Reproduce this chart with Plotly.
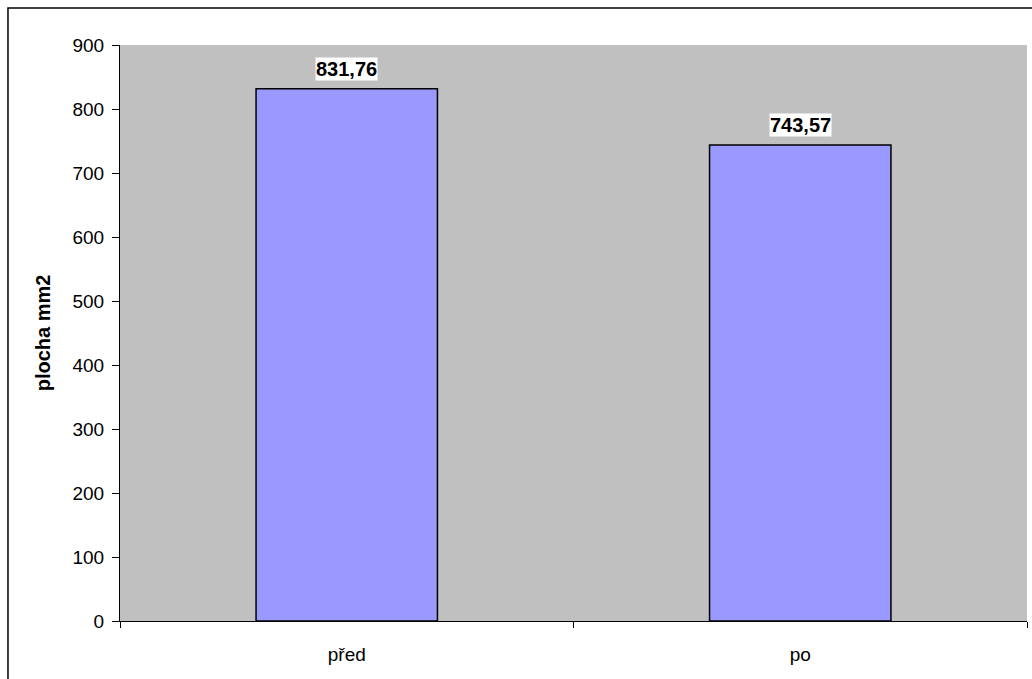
import plotly.graph_objects as go

categories = ["před", "po"]
values = [831.76, 743.57]
value_labels = ["831,76", "743,57"]

fig = go.Figure()
fig.add_trace(go.Bar(
    x=categories, y=values, width=0.4,
    marker=dict(color="#9999FF", line=dict(color="black", width=1.5)),
    hoverinfo="skip",
))

for cat, val, lab in zip(categories, values, value_labels):
    fig.add_annotation(
        x=cat, y=val, text=f"<b>{lab}</b>", showarrow=False,
        yshift=20, bgcolor="white", borderpad=0,
        font=dict(family="Liberation Sans, Arial", size=20, color="black"),
    )

# outer chart frame
fig.add_shape(type="rect", xref="paper", yref="paper",
              x0=-0.1235, x1=1.02, y0=-0.13, y1=1.0642,
              line=dict(color="black", width=1.5), layer="below")

fig.update_layout(
    width=1032, height=679,
    margin=dict(l=120, r=5, t=45, b=58),
    paper_bgcolor="white", plot_bgcolor="#C0C0C0",
    showlegend=False, bargap=0.6,
    font=dict(family="Liberation Sans, Arial", color="black"),
    xaxis=dict(showline=True, linecolor="black", linewidth=1,
               ticks="outside", ticklen=6, tickcolor="black",
               tickson="boundaries", tickfont=dict(size=19),
               ticklabelstandoff=16, showgrid=False),
    yaxis=dict(range=[0, 900], dtick=100, showline=True, linecolor="black",
               linewidth=1, ticks="outside", ticklen=7, tickcolor="black",
               tickfont=dict(size=19), ticklabelstandoff=4,
               showgrid=False, zeroline=False,
               title=dict(text="<b>plocha mm2</b>", font=dict(size=20), standoff=16)),
)

fig.write_html("out.html")
